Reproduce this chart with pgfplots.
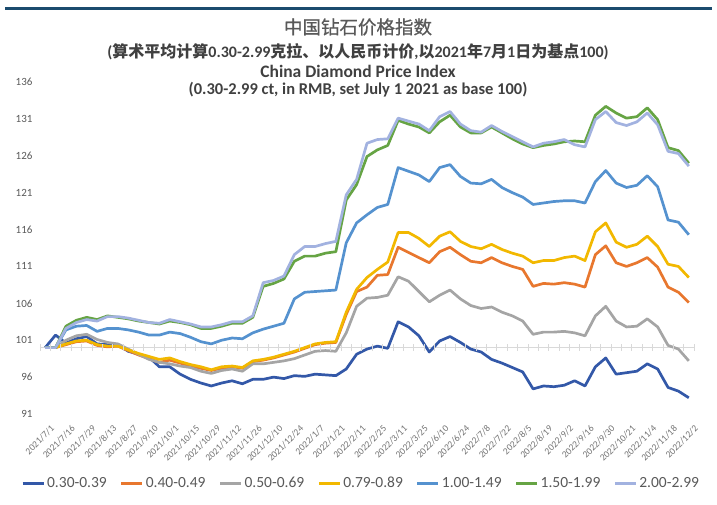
\documentclass[border=0pt]{standalone}
\usepackage{pgfplots}
\usepackage{pgfplotstable}
\pgfplotsset{compat=1.18}
\usepackage{fontspec}
\setmainfont{Carlito}
\newfontfamily\cjk{Noto Sans CJK SC}
\newfontfamily\cjkt{Noto Sans CJK SC}[FakeBold=0.7]
\definecolor{c1}{HTML}{3358A8}
\definecolor{c2}{HTML}{E8772E}
\definecolor{c3}{HTML}{A5A5A5}
\definecolor{c4}{HTML}{F2B800}
\definecolor{c5}{HTML}{5592CF}
\definecolor{c6}{HTML}{66A444}
\definecolor{c7}{HTML}{A2B2E0}
\definecolor{txt}{HTML}{595959}
\definecolor{ttl}{HTML}{404040}
\definecolor{rulec}{HTML}{1B4B6E}
\newcommand\C[1]{{\cjk\bfseries #1}}

\pgfplotstableread{
i s1 s2 s3 s4 s5 s6 s7
0 100 100 100 100 100 100 100
1 101.7 100 100 100 100 100 100
2 100.6 100.4 101.0 100.5 102.4 102.9 102.6
3 101.2 100.8 101.6 100.9 102.9 103.7 103.4
4 101.5 100.9 101.8 101.0 103.0 104.1 103.8
5 100.5 100.3 101.1 100.4 102.2 103.8 103.6
6 100.4 100.1 100.7 100.2 102.6 104.3 104.2
7 100.4 100.2 100.5 100.2 102.6 104.1 104.2
8 99.5 99.6 99.8 99.7 102.4 103.9 104.0
9 99.1 99.0 99.1 99.2 102.1 103.6 103.7
10 98.7 98.5 98.4 98.8 101.7 103.4 103.4
11 97.4 98.0 98.0 98.4 101.7 103.2 103.3
12 97.4 98.3 97.8 98.6 102.1 103.6 103.8
13 96.4 97.9 97.5 98.1 101.9 103.4 103.5
14 95.7 97.5 97.3 97.7 101.4 103.1 103.2
15 95.2 97.2 96.8 97.4 100.8 102.6 102.8
16 94.8 96.9 96.5 97.0 100.5 102.6 102.8
17 95.2 97.2 96.9 97.4 101.0 102.9 103.1
18 95.5 97.4 97.1 97.5 101.3 103.3 103.5
19 95.1 97.2 96.8 97.3 101.2 103.3 103.5
20 95.7 98.1 97.8 98.2 102.0 104.1 104.3
21 95.7 98.3 97.8 98.4 102.5 108.3 108.8
22 96.0 98.6 98.0 98.7 102.9 108.7 109.1
23 95.8 99.0 98.2 99.1 103.3 109.3 109.7
24 96.2 99.4 98.5 99.5 106.6 111.7 112.6
25 96.1 99.9 99.0 100.0 107.5 112.4 113.7
26 96.4 100.4 99.5 100.5 107.6 112.4 113.7
27 96.3 100.6 99.6 100.7 107.7 112.8 114.1
28 96.2 100.7 99.5 100.8 107.8 113.0 114.4
29 97.1 104.5 102.0 104.8 114.2 120.0 120.7
30 99.1 107.6 105.6 107.9 116.9 122.1 122.8
31 99.8 108.2 106.7 109.5 118.0 125.9 127.7
32 100.2 109.8 106.8 110.6 119.0 126.8 128.2
33 99.9 109.9 107.1 111.6 119.4 127.4 128.3
34 103.5 113.6 109.6 115.6 124.4 130.8 131.1
35 102.8 112.9 109.0 115.6 123.9 130.3 130.7
36 101.6 112.2 107.6 114.8 123.4 129.9 130.3
37 99.4 111.5 106.2 113.7 122.5 129.1 129.4
38 100.9 113.0 107.1 115.1 124.4 130.6 131.3
39 101.5 113.6 107.8 115.7 124.8 131.5 132.0
40 100.7 112.6 106.6 114.4 123.2 129.9 130.3
41 99.8 111.7 105.7 113.7 122.3 129.1 129.4
42 99.4 111.5 105.3 113.4 122.2 129.1 129.2
43 98.4 112.2 105.5 114.0 122.8 129.9 130.1
44 97.9 111.5 104.8 113.3 121.7 129.1 129.3
45 97.3 111.0 104.3 112.8 121.0 128.3 128.6
46 96.7 110.6 103.6 112.4 120.4 127.6 127.9
47 94.4 108.3 101.8 111.5 119.4 127.1 127.2
48 94.8 108.7 102.1 111.8 119.6 127.4 127.7
49 94.7 108.6 102.1 111.8 119.8 127.6 127.9
50 94.9 108.8 102.2 112.2 119.9 127.9 128.2
51 95.5 108.6 102.0 112.4 119.9 128.0 127.5
52 94.8 108.2 101.6 111.8 119.6 127.9 127.2
53 97.4 112.6 104.3 115.7 122.5 131.5 130.9
54 98.6 113.8 105.6 116.9 124.0 132.7 132.0
55 96.4 111.5 103.6 114.3 122.3 131.8 130.5
56 96.6 111.0 102.8 113.6 121.7 131.1 130.1
57 96.8 111.5 102.9 114.0 122.0 131.3 130.6
58 97.8 112.2 103.9 115.1 123.3 132.5 131.8
59 97.1 110.9 102.8 113.7 121.8 130.9 130.2
60 94.6 108.2 100.3 111.3 117.3 127.1 126.6
61 94.1 107.5 99.8 111.0 117.0 126.7 126.3
62 93.2 106.1 98.2 109.5 115.3 125.0 124.6
}\datatable

\begin{document}
\begin{tikzpicture}[x=1pt,y=1pt]
\useasboundingbox (0,0) rectangle (717,504);
\draw[rulec, line width=3pt] (5,495) -- (712,495);
\node[text=txt] at (358,477) {\cjkt\fontsize{18.5}{20}\selectfont 中国钻石价格指数};
\node[text=ttl] at (358,452) {\fontsize{16}{18}\selectfont\bfseries (\C{算术平均计算}0.30-2.99\C{克拉、以人民币计价},\C{以}2021\C{年}7\C{月}1\C{日为基点}100)};
\node[text=ttl] at (358,433) {\fontsize{17.5}{19}\selectfont\bfseries China Diamond Price Index};
\node[text=ttl] at (358,414) {\fontsize{16.5}{18}\selectfont\bfseries (0.30-2.99 ct, in RMB, set July 1 2021 as base 100)};
\begin{axis}[
  at={(40pt,90pt)}, anchor=south west,
  width=654pt, height=332pt, scale only axis,
  xmin=-0.5, xmax=62.5, ymin=91, ymax=136,
  axis line style={draw=none},
  major tick length=0pt,
  tick style={draw=none},
  ytick={91,96,101,106,111,116,121,126,131,136},
  xtick={0,2,...,62},
  xticklabels={2021/7/1,2021/7/16,2021/7/29,2021/8/13,2021/8/27,2021/9/10,2021/10/1,2021/10/15,2021/10/29,2021/11/12,2021/11/26,2021/12/10,2021/12/24,2022/1/7,2022/1/21,2022/2/11,2022/2/25,2022/3/11,2022/3/25,2022/6/10,2022/6/24,2022/7/8,2022/7/22,2022/8/5,2022/8/19,2022/9/2,2022/9/16,2022/9/30,2022/10/21,2022/11/4,2022/11/18,2022/12/2},
  /pgf/number format/assume math mode=true,
  yticklabel style={font=\fontsize{11}{12}\selectfont, text=txt, xshift=-4pt},
  xticklabel style={rotate=45, anchor=north east, font=\fontsize{9.5}{10}\selectfont, text=black!55, inner sep=1pt, yshift=-10pt, xshift=-3pt},
  clip=false,
  legend columns=7,
  legend style={draw=none, fill=none, at={(axis description cs:0.491,-0.208)}, anchor=center,
    font=\fontsize{15.5}{17}\selectfont, text=txt,
    /tikz/every even column/.append style={column sep=11pt}},
  legend image code/.code={\draw[#1, line width=3pt] (0pt,0pt) -- (21pt,0pt);},
  every axis plot/.append style={line width=2.7pt, line join=round},
]
\addplot[forget plot, line width=0.9pt, color=black!15] coordinates {(-0.5,100) (62.5,100)};
\addplot[forget plot, only marks, mark=|, mark size=3.5pt, mark options={line width=0.7pt}, color=black!15] coordinates {
(-0.5,100) (0.5,100) (1.5,100) (2.5,100) (3.5,100) (4.5,100) (5.5,100) (6.5,100) (7.5,100) (8.5,100)
(9.5,100) (10.5,100) (11.5,100) (12.5,100) (13.5,100) (14.5,100) (15.5,100) (16.5,100) (17.5,100) (18.5,100)
(19.5,100) (20.5,100) (21.5,100) (22.5,100) (23.5,100) (24.5,100) (25.5,100) (26.5,100) (27.5,100) (28.5,100)
(29.5,100) (30.5,100) (31.5,100) (32.5,100) (33.5,100) (34.5,100) (35.5,100) (36.5,100) (37.5,100) (38.5,100)
(39.5,100) (40.5,100) (41.5,100) (42.5,100) (43.5,100) (44.5,100) (45.5,100) (46.5,100) (47.5,100) (48.5,100)
(49.5,100) (50.5,100) (51.5,100) (52.5,100) (53.5,100) (54.5,100) (55.5,100) (56.5,100) (57.5,100) (58.5,100)
(59.5,100) (60.5,100) (61.5,100) (62.5,100)};
\addplot[c1] table[x=i,y=s1] {\datatable};
\addplot[c2] table[x=i,y=s2] {\datatable};
\addplot[c3] table[x=i,y=s3] {\datatable};
\addplot[c4] table[x=i,y=s4] {\datatable};
\addplot[c5] table[x=i,y=s5] {\datatable};
\addplot[c6] table[x=i,y=s6] {\datatable};
\addplot[c7] table[x=i,y=s7] {\datatable};
\legend{0.30-0.39,0.40-0.49,0.50-0.69,0.79-0.89,1.00-1.49,1.50-1.99,2.00-2.99}
\end{axis}
\end{tikzpicture}
\end{document}
